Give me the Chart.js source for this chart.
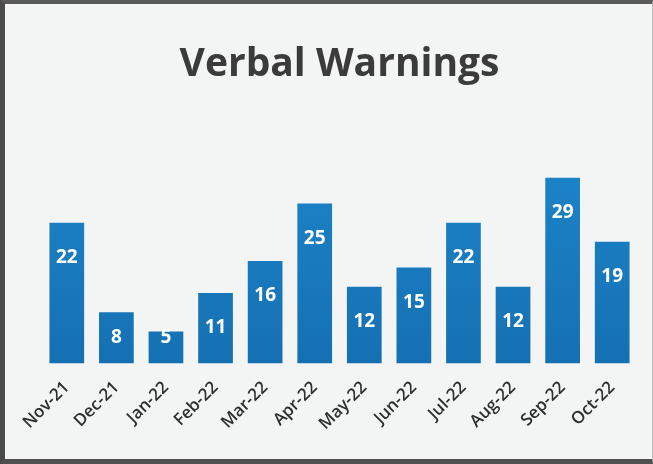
<!DOCTYPE html>
<html>
<head>
<meta charset="utf-8">
<script src="https://cdn.jsdelivr.net/npm/chart.js@4.4.0/dist/chart.umd.min.js"></script>
<style>
    html, body { margin: 0; padding: 0; background: #f3f4f4; }
    #wrap { position: relative; width: 653px; height: 464px; }
    #frame {
        position: absolute; left: 0; top: 0; width: 653px; height: 464px;
        box-sizing: border-box; pointer-events: none;
        border-top: 4px solid #5a5a5a; border-left: 5px solid #4a4a4a;
        border-bottom: 5px solid #4f4f4f; border-right: 1px solid #bbb;
    }
</style>
</head>
<body>
<div id="wrap">
    <canvas id="barChart" width="653" height="464"></canvas>
    <div id="frame"></div>
</div>
<script>
    const months = ['Nov-21', 'Dec-21', 'Jan-22', 'Feb-22', 'Mar-22', 'Apr-22',
                    'May-22', 'Jun-22', 'Jul-22', 'Aug-22', 'Sep-22', 'Oct-22'];
    const warnings = [22, 8, 5, 11, 16, 25, 12, 15, 22, 12, 29, 19];
    const yMax = 41.5;

    // White value labels drawn inside the top of each bar
    const insideLabels = {
        id: 'insideLabels',
        afterDatasetsDraw(chart) {
            const ctx = chart.ctx;
            const meta = chart.getDatasetMeta(0);
            ctx.save();
            ctx.fillStyle = '#ffffff';
            ctx.font = 'bold 19px "Open Sans"';
            ctx.textAlign = 'center';
            ctx.textBaseline = 'middle';
            meta.data.forEach((bar, i) => {
                const y = Math.min(bar.y + 35, bar.base - 26);
                ctx.fillText(warnings[i], bar.x, y);
            });
            ctx.restore();
        }
    };

    const ctx = document.getElementById('barChart').getContext('2d');
    new Chart(ctx, {
        type: 'bar',
        data: {
            labels: months,
            datasets: [{
                label: 'Verbal Warnings',
                data: warnings,
                backgroundColor: function (c) {
                    const area = c.chart.chartArea;
                    if (!area) return '#1a7dc0';
                    const g = c.chart.ctx.createLinearGradient(0, area.top, 0, area.bottom);
                    g.addColorStop(0, '#1f8ad0');
                    g.addColorStop(1, '#1570b2');
                    return g;
                },
                categoryPercentage: 1.0,
                barPercentage: 0.7
            }]
        },
        options: {
            responsive: false,
            animation: false,
            layout: { padding: { left: 42, right: 16, top: 41, bottom: 24 } },
            plugins: {
                legend: { display: false },
                tooltip: { enabled: false },
                title: {
                    display: true,
                    text: 'Verbal Warnings',
                    color: '#3b3b3b',
                    font: { family: 'Open Sans', size: 39, weight: 'bold' },
                    padding: { top: 0, bottom: 10 }
                }
            },
            scales: {
                y: {
                    display: false,
                    min: 0,
                    max: yMax
                },
                x: {
                    grid: { display: false },
                    border: { display: false },
                    ticks: {
                        color: '#2f2f2f',
                        font: { family: 'Open Sans', size: 17, weight: '600' },
                        minRotation: 45,
                        maxRotation: 45,
                        padding: 6
                    }
                }
            }
        },
        plugins: [insideLabels]
    });
</script>
</body>
</html>
